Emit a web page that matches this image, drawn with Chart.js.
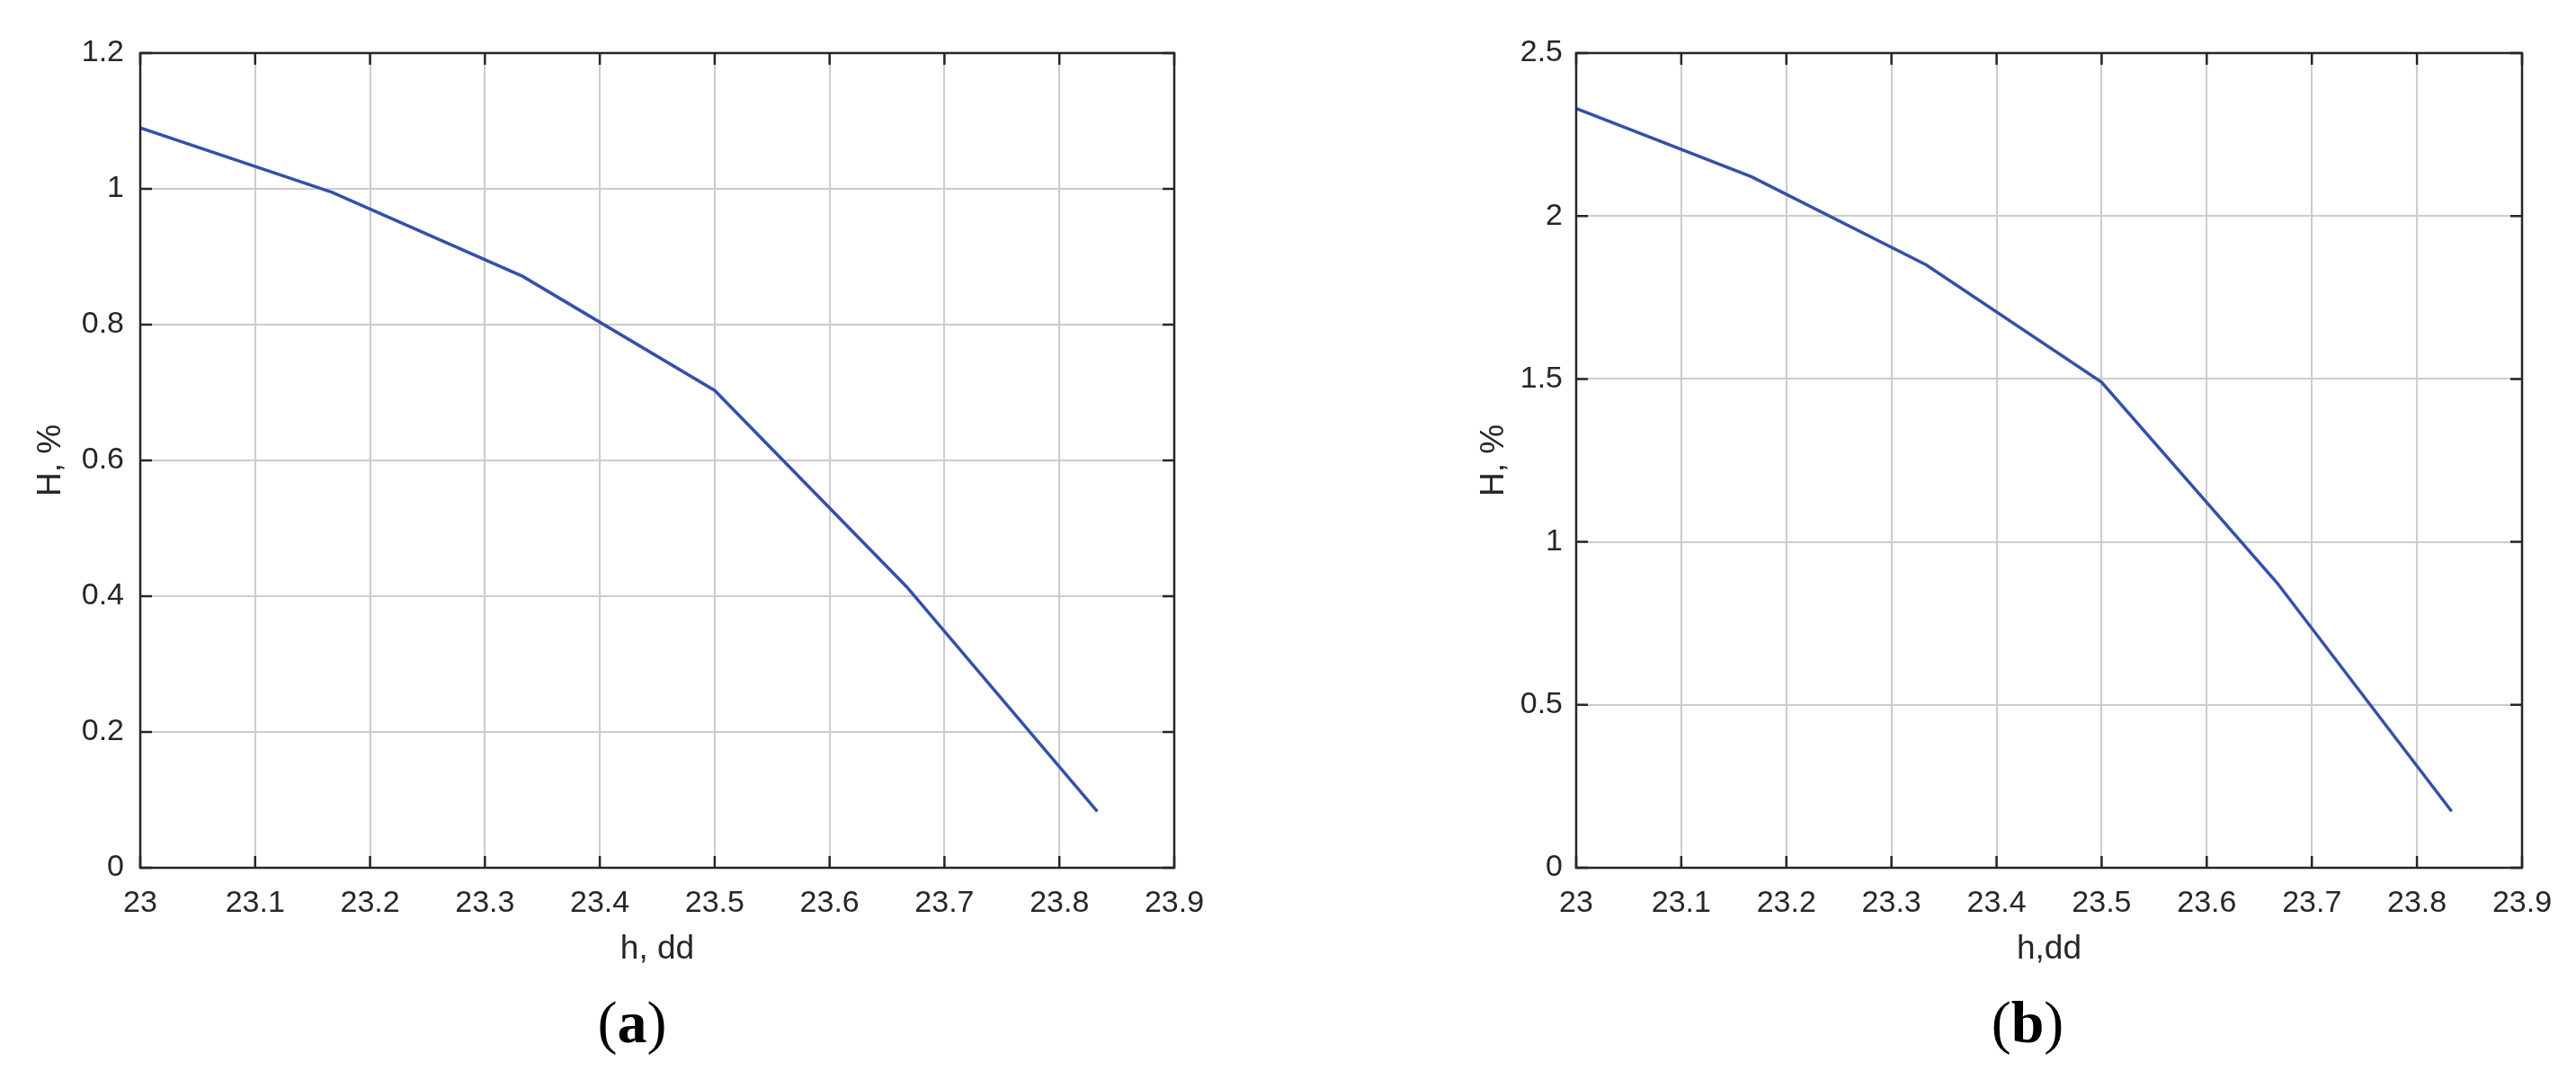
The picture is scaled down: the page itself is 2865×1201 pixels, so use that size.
<!DOCTYPE html>
<html>
<head>
<meta charset="utf-8">
<script src="https://cdn.jsdelivr.net/npm/chart.js@4.4.1/dist/chart.umd.min.js"></script>
<style>
  html, body { margin: 0; padding: 0; background: #fff; }
  body { width: 2865px; height: 1201px; position: relative; overflow: hidden; }
  .wrap { position: absolute; top: 0; height: 1201px; }
  .lbl { position: absolute; font-family: 'Liberation Serif', 'Times New Roman', serif; font-size: 66px; line-height: 66px; color: #000; width: 300px; text-align: center; white-space: nowrap; }
</style>
</head>
<body>
<div class="wrap" id="wa" style="left:0;width:1500px;"><canvas id="ca"></canvas></div>
<div class="wrap" id="wb" style="left:1560px;width:1305px;"><canvas id="cb"></canvas></div>
<div class="lbl" style="left:553px;top:1104px;">(<b>a</b>)</div>
<div class="lbl" style="left:2105px;top:1104px;">(<b>b</b>)</div>
<script>
// ---- data ----
const hValues = [23, 23.167, 23.333, 23.5, 23.667, 23.833];
const seriesA = [1.09, 0.995, 0.871, 0.703, 0.414, 0.083];
const seriesB = [2.33, 2.12, 1.85, 1.49, 0.874, 0.173];
const xTickLabels = ['23', '23.1', '23.2', '23.3', '23.4', '23.5', '23.6', '23.7', '23.8', '23.9'];
const yTickLabelsA = ['0', '0.2', '0.4', '0.6', '0.8', '1', '1.2'];
const yTickLabelsB = ['0', '0.5', '1', '1.5', '2', '2.5'];
const xTitleA = 'h, dd';
const xTitleB = 'h,dd';
const yTitle = 'H, %';

const X_MIN = 23, X_MAX = 23.9, X_STEP = 0.1;
const INK = '#262626';

Chart.defaults.font.family = "'Liberation Sans', Arial, Helvetica, sans-serif";
Chart.defaults.color = INK;
Chart.defaults.animation = false;

const boxPlugin = {
  id: 'boxTicks',
  afterDraw(chart) {
    const { ctx, chartArea: a, scales } = chart;
    const x = scales.x, y = scales.y;
    const L = 13;
    ctx.save();
    ctx.strokeStyle = INK;
    ctx.lineWidth = 2.5;
    ctx.beginPath();
    x.ticks.forEach(t => {
      const px = x.getPixelForValue(t.value);
      ctx.moveTo(px, a.bottom); ctx.lineTo(px, a.bottom - L);
      ctx.moveTo(px, a.top); ctx.lineTo(px, a.top + L);
    });
    y.ticks.forEach(t => {
      const py = y.getPixelForValue(t.value);
      ctx.moveTo(a.left, py); ctx.lineTo(a.left + L, py);
      ctx.moveTo(a.right, py); ctx.lineTo(a.right - L, py);
    });
    ctx.stroke();
    ctx.strokeRect(a.left, a.top, a.right - a.left, a.bottom - a.top);
    ctx.restore();
  }
};

function makeChart(canvasId, values, yMax, yStep, yLabels, xTitle, opts) {
  const points = hValues.map((h, i) => ({ x: h, y: values[i] }));
  return new Chart(document.getElementById(canvasId), {
    type: 'line',
    data: {
      datasets: [{
        data: points,
        borderColor: 'rgb(52,80,170)',
        borderWidth: 3.5,
        pointRadius: 0,
        tension: 0,
        fill: false
      }]
    },
    options: {
      responsive: true,
      maintainAspectRatio: false,
      layout: { padding: { left: 0, top: 59, right: opts.padRight, bottom: 0 } },
      plugins: { legend: { display: false }, tooltip: { enabled: false }, title: { display: false } },
      scales: {
        x: {
          type: 'linear',
          min: X_MIN, max: X_MAX,
          grid: { color: '#cccccc', lineWidth: 2, drawTicks: false },
          border: { display: false },
          ticks: {
            stepSize: X_STEP,
            padding: 19,
            maxRotation: 0,
            autoSkip: false,
            font: { size: 34 },
            color: INK,
            callback: (v) => { const k = Math.round((v - X_MIN) / X_STEP); return xTickLabels[k] ?? ''; }
          },
          title: { display: true, text: xTitle, font: { size: 37 }, color: INK, padding: { top: 0, bottom: 123 } },
          afterFit: (s) => { s.height = 236; }
        },
        y: {
          type: 'linear',
          min: 0, max: yMax,
          grid: { color: '#cccccc', lineWidth: 2, drawTicks: false },
          border: { display: false },
          ticks: {
            stepSize: yStep,
            padding: opts.yPad,
            font: { size: 34 },
            color: INK,
            callback: (v) => { const k = Math.round(v / yStep); return yLabels[k] ?? ''; }
          },
          title: { display: true, text: yTitle, font: { size: 37 }, color: INK, padding: { top: opts.yTitlePad, bottom: 0 } },
          afterFit: (s) => { s.width = opts.yWidth; }
        }
      }
    },
    plugins: [boxPlugin]
  });
}

makeChart('ca', seriesA, 1.2, 0.2, yTickLabelsA, xTitleA, { padRight: 194, yWidth: 156, yPad: 18, yTitlePad: 35 });
makeChart('cb', seriesB, 2.5, 0.5, yTickLabelsB, xTitleB, { padRight: 60, yWidth: 193, yPad: 15, yTitlePad: 80 });
</script>
</body>
</html>
